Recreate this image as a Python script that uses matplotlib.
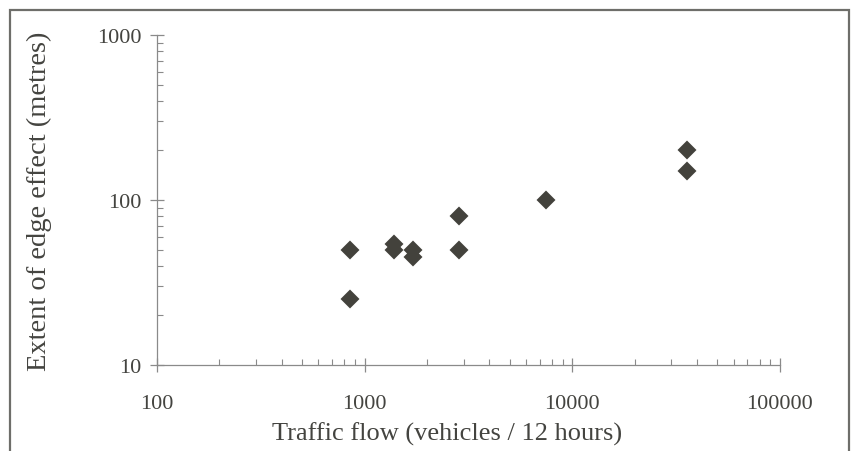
import numpy as np
import matplotlib
matplotlib.use("Agg")
import matplotlib.pyplot as plt
from matplotlib.patches import Rectangle
from matplotlib.ticker import LogLocator, FixedLocator, NullFormatter

# traffic flow (vehicles / 12 hours) and edge effect extent (metres)
traffic_flow = [850, 850, 1390, 1390, 1710, 1710, 2860, 2860, 7480, 35800, 35800]
edge_extent = [50, 25, 54, 50, 50, 45, 80, 50, 100, 200, 150]

x_ticks = [100, 1000, 10000, 100000]
y_ticks = [10, 100, 1000]

plt.rcParams['font.family'] = ['Liberation Serif', 'DejaVu Serif']

fig = plt.figure(figsize=(8.53, 4.52), dpi=100)
ax = fig.add_axes([0.184, 0.190, 0.730, 0.730])

ax.plot(traffic_flow, edge_extent, linestyle='none', marker='D', markersize=8.5,
        markerfacecolor='#43423c', markeredgecolor='#43423c', markeredgewidth=1.5,
        solid_joinstyle='round')

ax.set_xscale('log')
ax.set_yscale('log')
ax.set_xlim(100, 100000)
ax.set_ylim(10, 1000)

ax.xaxis.set_major_locator(FixedLocator(x_ticks))
ax.yaxis.set_major_locator(FixedLocator(y_ticks))
ax.set_xticklabels([str(v) for v in x_ticks])
ax.set_yticklabels([str(v) for v in y_ticks])
ax.xaxis.set_minor_locator(LogLocator(base=10, subs=np.arange(2, 10)))
ax.yaxis.set_minor_locator(LogLocator(base=10, subs=np.arange(2, 10)))
ax.xaxis.set_minor_formatter(NullFormatter())
ax.yaxis.set_minor_formatter(NullFormatter())

for side in ['top', 'right']:
    ax.spines[side].set_visible(False)
for side in ['left', 'bottom']:
    ax.spines[side].set_color('#8a8a8a')
    ax.spines[side].set_linewidth(0.9)

ax.tick_params(which='major', direction='inout', length=10, width=0.9,
               color='#8a8a8a', labelsize=16, labelcolor='#444440')
ax.tick_params(which='minor', direction='in', length=4, width=0.8, color='#8a8a8a')
ax.tick_params(axis='x', which='major', pad=16)
ax.tick_params(axis='y', which='major', pad=6)

ax.set_xlabel('Traffic flow (vehicles / 12 hours)', fontsize=19, color='#444440')
ax.set_ylabel('Extent of edge effect (metres)', fontsize=20.5, color='#444440')
ax.xaxis.set_label_coords(0.466, -0.17)
ax.yaxis.set_label_coords(-0.168, 0.5)

# outer frame around the chart
fig.patches.append(Rectangle((10 / 853, -0.05), 839 / 853, 1 - 11 / 452 + 0.05,
                             transform=fig.transFigure, fill=False,
                             edgecolor='#6e6e6a', linewidth=1.6))

fig.savefig('out.png', dpi=100, facecolor='white')
